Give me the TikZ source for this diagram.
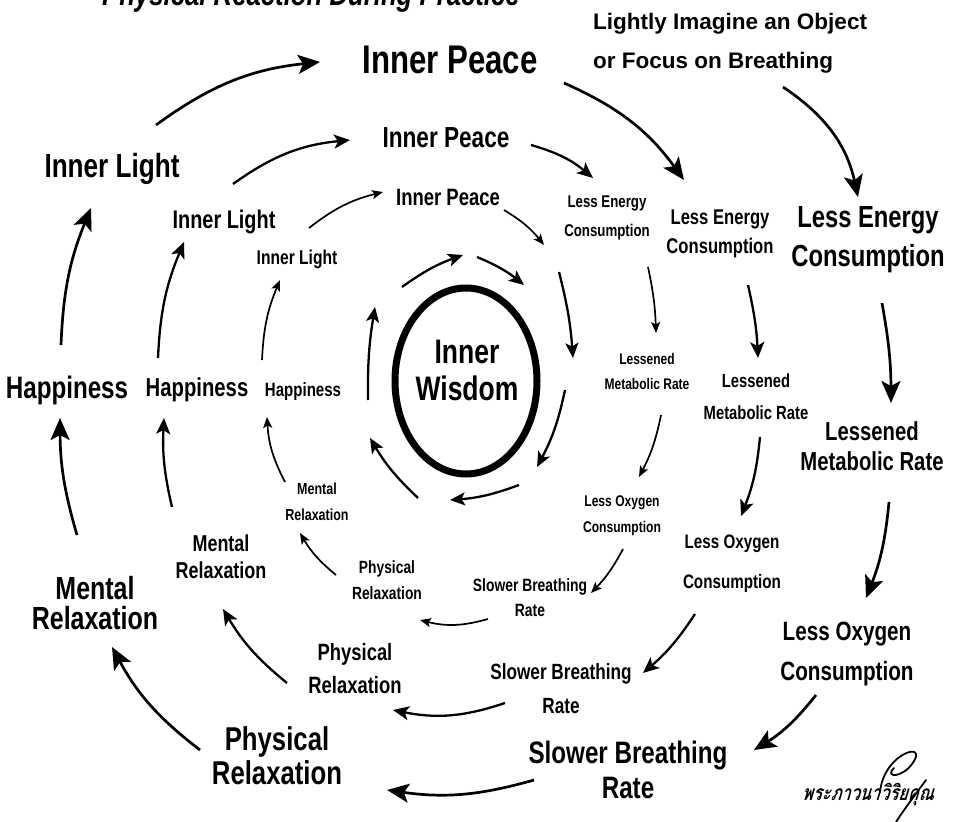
\documentclass[tikz,border=0pt]{standalone}
\usepackage{fontspec}
\setmainfont{Liberation Sans}[FakeStretch=0.78]
\newfontfamily\widefont{Liberation Sans}
\newfontfamily\thaifont[Script=Thai,FakeSlant=0.3,FakeStretch=0.78]{Loma}
\usetikzlibrary{arrows.meta}

\tikzset{
  lbl/.style 2 args={font=\bfseries\fontsize{#1}{#2}\selectfont, align=center, inner sep=0pt},
  outarr/.style={line width=2.7pt, -{Stealth[length=22pt,width=19pt,inset=5pt]}},
  midarr/.style={line width=2.3pt, -{Stealth[length=16pt,width=14pt,inset=4pt]}},
  inarr/.style={line width=1.7pt, -{Stealth[length=11pt,width=9pt,inset=2.5pt]}},
  corearr/.style={line width=2.3pt, -{Stealth[length=15pt,width=13pt,inset=3.5pt]}},
}

\begin{document}
\begin{tikzpicture}[x=1pt,y=-1pt]
    \useasboundingbox (0,0) rectangle (956,822);
    % title, cut by the top edge
    \node[font=\bfseries\itshape\fontsize{33}{33}\selectfont, anchor=base east, inner sep=0pt] (title) at (520,5) {Physical Reaction During Practice};
    % note on the start of the spiral
    \node[font=\widefont\bfseries\fontsize{22.5}{39}\selectfont, align=left, anchor=west, inner sep=0pt] (start) at (593,43) {Lightly Imagine an Object\\or Focus on Breathing};

    % centre
    \draw[line width=7pt] (466,381) ellipse [x radius=71, y radius=93];
    \node[lbl={34}{37}] (wisdom) at (467,370) {Inner\\Wisdom};

    % outer ring
    \node[lbl={40}{40}] (oPeace) at (450,60) {Inner Peace};
    \node[lbl={30.5}{39}] (oEnergy) at (868,240) {Less Energy\\Consumption};
    \node[lbl={26}{30}] (oMetab) at (872,446) {Lessened\\Metabolic Rate};
    \node[lbl={26.5}{40}] (oOxy) at (847,654) {Less Oxygen\\Consumption};
    \node[lbl={31}{35}] (oSlow) at (628,770) {Slower Breathing\\Rate};
    \node[lbl={33}{34}] (oPhys) at (277,756) {Physical\\Relaxation};
    \node[lbl={32}{30}] (oMental) at (95,603) {Mental\\Relaxation};
    \node[lbl={31}{31}] (oHappy) at (67,390) {Happiness};
    \node[lbl={33.5}{33.5}] (oLight) at (112,169) {Inner Light};

    % middle ring
    \node[lbl={29}{29}] (mPeace) at (446,138) {Inner Peace};
    \node[lbl={21.3}{29}] (mEnergy) at (720,234) {Less Energy\\Consumption};
    \node[lbl={19}{32}] (mMetab) at (756,397) {Lessened\\Metabolic Rate};
    \node[lbl={19.5}{40}] (mOxy) at (732,564) {Less Oxygen\\Consumption};
    \node[lbl={22}{34}] (mSlow) at (561,689) {Slower Breathing\\Rate};
    \node[lbl={23.6}{33}] (mPhys) at (355,669) {Physical\\Relaxation};
    \node[lbl={23}{27}] (mMental) at (221,557) {Mental\\Relaxation};
    \node[lbl={26}{26}] (mHappy) at (197,390) {Happiness};
    \node[lbl={25.5}{25.5}] (mLight) at (224,222) {Inner Light};

    % inner ring
    \node[lbl={23.7}{23.7}] (iPeace) at (448,197) {Inner Peace};
    \node[lbl={17}{29}] (iEnergy) at (607,218) {Less Energy\\Consumption};
    \node[lbl={15.4}{25}] (iMetab) at (647,371) {Lessened\\Metabolic Rate};
    \node[lbl={15.5}{26}] (iOxy) at (622,516) {Less Oxygen\\Consumption};
    \node[lbl={17.8}{25}] (iSlow) at (530,598) {Slower Breathing\\Rate};
    \node[lbl={17.7}{26}] (iPhys) at (387,580) {Physical\\Relaxation};
    \node[lbl={16}{26}] (iMental) at (317,502) {Mental\\Relaxation};
    \node[lbl={19.3}{19.3}] (iHappy) at (303,392) {Happiness};
    \node[lbl={20}{20}] (iLight) at (297,259) {Inner Light};

    % arrow ends
    \coordinate (oa1) at (783,87);  \coordinate (oa2) at (858,197);
    \coordinate (ob1) at (882,303); \coordinate (ob2) at (891,403);
    \coordinate (oc1) at (889,502); \coordinate (oc2) at (866,598);
    \coordinate (od1) at (816,695); \coordinate (od2) at (754,750);
    \coordinate (oe1) at (534,780); \coordinate (oe2) at (387,790);
    \coordinate (of1) at (200,750); \coordinate (of2) at (112,647);
    \coordinate (og1) at (77,535);  \coordinate (og2) at (60,418);
    \coordinate (oh1) at (61,345);  \coordinate (oh2) at (91,208);
    \coordinate (oi1) at (156,125); \coordinate (oi2) at (320,62);
    \coordinate (oj1) at (564,83);  \coordinate (oj2) at (684,180);

    \coordinate (ma1) at (748,285); \coordinate (ma2) at (758,358);
    \coordinate (mb1) at (760,437); \coordinate (mb2) at (741,516);
    \coordinate (mc1) at (695,614); \coordinate (mc2) at (643,673);
    \coordinate (md1) at (505,703); \coordinate (md2) at (393,710);
    \coordinate (me1) at (287,683); \coordinate (me2) at (223,609);
    \coordinate (mf1) at (172,507); \coordinate (mf2) at (164,418);
    \coordinate (mg1) at (158,358); \coordinate (mg2) at (184,242);
    \coordinate (mh1) at (233,184); \coordinate (mh2) at (350,140);
    \coordinate (mi1) at (531,145); \coordinate (mi2) at (593,178);

    \coordinate (ia1) at (648,267); \coordinate (ia2) at (656,333);
    \coordinate (ib1) at (661,415); \coordinate (ib2) at (639,477);
    \coordinate (ic1) at (623,549); \coordinate (ic2) at (591,593);
    \coordinate (id1) at (488,619); \coordinate (id2) at (420,620);
    \coordinate (ie1) at (336,575); \coordinate (ie2) at (300,533);
    \coordinate (if1) at (285,482); \coordinate (if2) at (267,417);
    \coordinate (ig1) at (262,360); \coordinate (ig2) at (280,280);
    \coordinate (ih1) at (309,228); \coordinate (ih2) at (383,192);
    \coordinate (ii1) at (504,210); \coordinate (ii2) at (544,245);

    \coordinate (ca1) at (559,272); \coordinate (ca2) at (573,358);
    \coordinate (cb1) at (565,390); \coordinate (cb2) at (537,467);
    \coordinate (cc1) at (519,485); \coordinate (cc2) at (450,500);
    \coordinate (cd1) at (418,498); \coordinate (cd2) at (370,438);
    \coordinate (ce1) at (368,400); \coordinate (ce2) at (375,307);
    \coordinate (cf1) at (402,287); \coordinate (cf2) at (463,255);
    \coordinate (cg1) at (477,257); \coordinate (cg2) at (524,285);

    % outer spiral
    \draw[outarr] (oa1) to[bend left=22] (oa2);
    \draw[outarr] (ob1) to[bend left=5] (ob2);
    \draw[outarr] (oc1) to[bend left=8] (oc2);
    \draw[outarr] (od1) to[bend left=10] (od2);
    \draw[outarr] (oe1) to[bend left=12] (oe2);
    \draw[outarr] (of1) to[bend left=12] (of2);
    \draw[outarr] (og1) to[bend left=8] (og2);
    \draw[outarr] (oh1) to[bend left=10] (oh2);
    \draw[outarr] (oi1) to[bend left=15] (oi2);
    \draw[outarr] (oj1) to[bend left=15] (oj2);
    % middle spiral
    \draw[midarr] (ma1) to[bend left=5] (ma2);
    \draw[midarr] (mb1) to[bend left=8] (mb2);
    \draw[midarr] (mc1) to[bend left=8] (mc2);
    \draw[midarr] (md1) to[bend left=15] (md2);
    \draw[midarr] (me1) to[bend left=10] (me2);
    \draw[midarr] (mf1) to[bend left=8] (mf2);
    \draw[midarr] (mg1) to[bend left=10] (mg2);
    \draw[midarr] (mh1) to[bend left=15] (mh2);
    \draw[midarr] (mi1) to[bend left=12] (mi2);
    % inner spiral
    \draw[inarr] (ia1) to[bend left=5] (ia2);
    \draw[inarr] (ib1) to[bend left=8] (ib2);
    \draw[inarr] (ic1) to[bend left=8] (ic2);
    \draw[inarr] (id1) to[bend left=15] (id2);
    \draw[inarr] (ie1) to[bend left=10] (ie2);
    \draw[inarr] (if1) to[bend left=12] (if2);
    \draw[inarr] (ig1) to[bend left=10] (ig2);
    \draw[inarr] (ih1) to[bend left=12] (ih2);
    \draw[inarr] (ii1) to[bend left=10] (ii2);
    % round the centre
    \draw[corearr] (ca1) to[bend left=5] (ca2);
    \draw[corearr] (cb1) to[bend left=8] (cb2);
    \draw[corearr] (cc1) to[bend left=8] (cc2);
    \draw[corearr] (cd1) to[bend left=8] (cd2);
    \draw[corearr] (ce1) to[bend left=5] (ce2);
    \draw[corearr] (cf1) to[bend left=8] (cf2);
    \draw[corearr] (cg1) to[bend left=8] (cg2);

    % signature
    \node[font=\thaifont\bfseries\fontsize{21}{21}\selectfont, inner sep=0pt] (sign) at (868,795) {พระภาวนาวิริยคุณ};
    \draw[line width=1.8pt, line cap=round] (880,792) .. controls (884,752) and (930,740) .. (912,764) .. controls (902,778) and (884,778) .. (894,768);
    \draw[line width=1.8pt, line cap=round] (926,780) .. controls (915,795) and (905,808) .. (896,822);
\end{tikzpicture}
\end{document}
